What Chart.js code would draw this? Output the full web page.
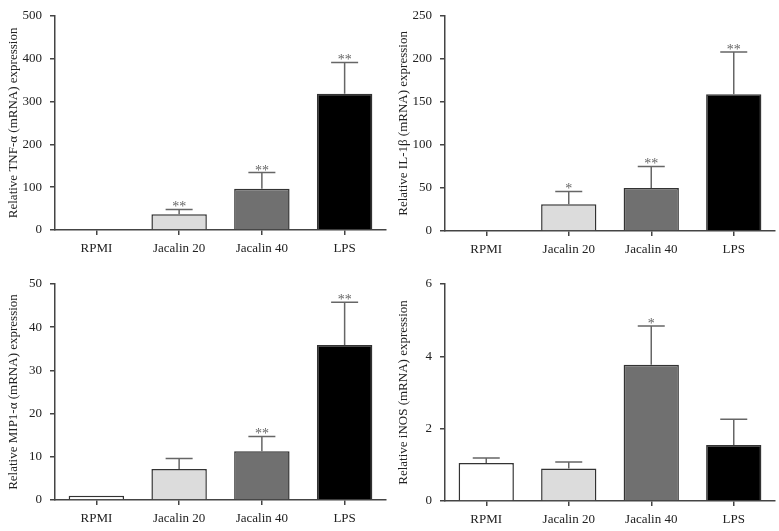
<!DOCTYPE html>
<html>
<head>
<meta charset="utf-8">
<script src="https://cdn.jsdelivr.net/npm/chart.js@4/dist/chart.umd.min.js"></script>
<style>
  html, body { margin: 0; padding: 0; background: #fff; }
  #wrap { position: relative; width: 779px; height: 531px; }
  .panel { position: absolute; }
</style>
</head>
<body>
<div id="wrap">
  <div class="panel" style="left:0;top:0;width:390px;height:262px"><canvas id="c1"></canvas></div>
  <div class="panel" style="left:390px;top:0;width:389px;height:262px"><canvas id="c2"></canvas></div>
  <div class="panel" style="left:0;top:265px;width:390px;height:266px"><canvas id="c3"></canvas></div>
  <div class="panel" style="left:390px;top:265px;width:389px;height:266px"><canvas id="c4"></canvas></div>
</div>
<script>
const groups = ['RPMI', 'Jacalin 20', 'Jacalin 40', 'LPS'];
const barColors = ['#ffffff', '#dcdcdc', '#707070', '#000000'];

const tnfMean = [1.5, 37, 96, 318];
const tnfErr = [0, 11, 38, 73];
const tnfStars = ['', '**', '**', '**'];

const il1Mean = [1, 31, 50, 159];
const il1Err = [0, 15, 25, 49];
const il1Stars = ['', '*', '**', '**'];

const mipMean = [1, 7.2, 11.3, 35.9];
const mipErr = [0, 2.4, 3.4, 9.9];
const mipStars = ['', '', '**', '**'];

const inosMean = [1.05, 0.9, 3.77, 1.55];
const inosErr = [0.14, 0.18, 1.07, 0.71];
const inosStars = ['', '', '*', ''];

const FONT = "'Liberation Serif', 'DejaVu Serif', serif";

// upper error bars + significance stars
const errorBars = {
  id: 'errorBars',
  afterDatasetsDraw(chart, args, opts) {
    const ctx = chart.ctx;
    const meta = chart.getDatasetMeta(0);
    const y = chart.scales.y;
    ctx.save();
    ctx.strokeStyle = '#666';
    ctx.lineWidth = 1.5;
    meta.data.forEach((bar, i) => {
      const top = y.getPixelForValue(opts.mean[i] + opts.err[i]);
      const base = y.getPixelForValue(opts.mean[i]);
      if (opts.err[i] > 0) {
        ctx.beginPath();
        ctx.moveTo(bar.x, base);
        ctx.lineTo(bar.x, top);
        ctx.moveTo(bar.x - 13.5, top);
        ctx.lineTo(bar.x + 13.5, top);
        ctx.stroke();
      }
      if (opts.stars[i]) {
        ctx.fillStyle = '#666';
        ctx.font = '14px ' + FONT;
        ctx.textAlign = 'center';
        ctx.textBaseline = 'alphabetic';
        ctx.fillText(opts.stars[i], bar.x, top + 2);
      }
    });
    ctx.restore();
  }
};

function makeChart(id, mean, err, stars, yMax, step, title, padTop, xH) {
  return new Chart(document.getElementById(id), {
    type: 'bar',
    data: {
      labels: groups,
      datasets: [{
        data: mean,
        backgroundColor: barColors,
        borderColor: '#333',
        borderWidth: 1.5,
        borderSkipped: 'bottom',
        barPercentage: 0.67,
        categoryPercentage: 1.0
      }]
    },
    options: {
      responsive: true,
      maintainAspectRatio: false,
      animation: false,
      layout: { padding: { top: padTop, right: 4, left: 0, bottom: 0 } },
      plugins: {
        legend: { display: false },
        tooltip: { enabled: false },
        errorBars: { mean: mean, err: err, stars: stars }
      },
      scales: {
        x: {
          grid: { display: true, drawOnChartArea: false, drawTicks: true, tickLength: 5, offset: false, color: '#444', lineWidth: 1.5 },
          border: { display: true, color: '#444', width: 1.5 },
          ticks: { color: '#222', font: { family: FONT, size: 13 }, padding: 6 },
          afterFit(scale) { scale.height = xH; }
        },
        y: {
          min: 0,
          max: yMax,
          ticks: { stepSize: step, color: '#222', font: { family: FONT, size: 13 }, padding: 8 },
          grid: { display: true, drawOnChartArea: false, drawTicks: true, tickLength: 5, color: '#444', lineWidth: 1.5 },
          border: { display: true, color: '#444', width: 1.5 },
          title: { display: true, text: title, color: '#222', font: { family: FONT, size: 13 }, padding: { top: 6, bottom: 0 } },
          afterFit(scale) { scale.width = 55; }
        }
      }
    },
    plugins: [errorBars]
  });
}

makeChart('c1', tnfMean, tnfErr, tnfStars, 500, 100, 'Relative TNF-α (mRNA) expression', 14, 32);
makeChart('c2', il1Mean, il1Err, il1Stars, 250, 50, 'Relative IL-1β (mRNA) expression', 15, 31);
makeChart('c3', mipMean, mipErr, mipStars, 50, 10, 'Relative MIP1-α (mRNA) expression', 19, 31);
makeChart('c4', inosMean, inosErr, inosStars, 6, 2, 'Relative iNOS (mRNA) expression', 19, 30);
</script>
</body>
</html>
